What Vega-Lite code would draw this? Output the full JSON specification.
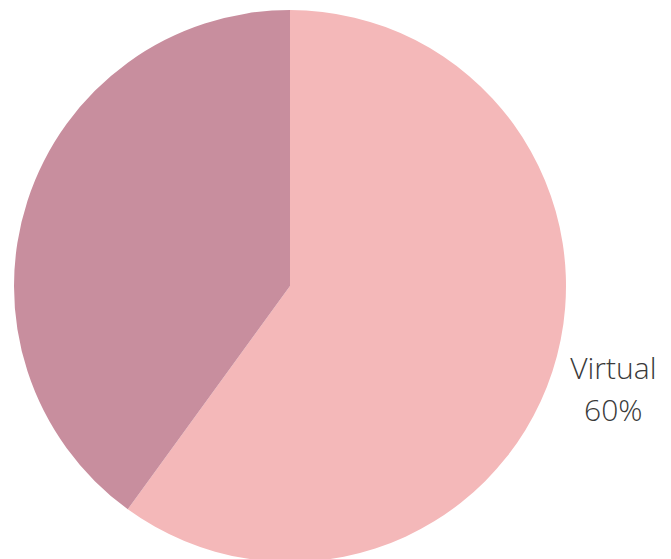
{
  "$schema": "https://vega.github.io/schema/vega-lite/v6.json",
  "width": 580,
  "height": 572,
  "padding": {"left": 0, "top": 0, "right": 91, "bottom": 0},
  "autosize": "none",
  "background": "white",
  "view": {"stroke": null},
  "data": {
    "values": [
      {"mode": "Virtual", "share": 60, "order": 1, "label": "Virtual\n60%"},
      {"mode": "In person", "share": 40, "order": 2, "label": "In person\n40%"}
    ]
  },
  "encoding": {
    "theta": {"field": "share", "type": "quantitative", "stack": true},
    "order": {"field": "order", "type": "quantitative"},
    "color": {
      "field": "mode",
      "type": "nominal",
      "scale": {"domain": ["Virtual", "In person"], "range": ["#F4B8B9", "#C88E9E"]},
      "legend": null
    }
  },
  "layer": [
    {"mark": {"type": "arc", "outerRadius": 276}},
    {
      "transform": [{"filter": "datum.mode === 'Virtual'"}],
      "mark": {
        "type": "text",
        "radius": 340,
        "dy": -21,
        "font": "Open Sans",
        "fontWeight": 300,
        "fontSize": 30,
        "lineBreak": "\n",
        "lineHeight": 42,
        "align": "center",
        "baseline": "middle",
        "color": "#3a3a3a"
      },
      "encoding": {
        "text": {"field": "label"},
        "color": {"value": "#3a3a3a"}
      }
    }
  ]
}
